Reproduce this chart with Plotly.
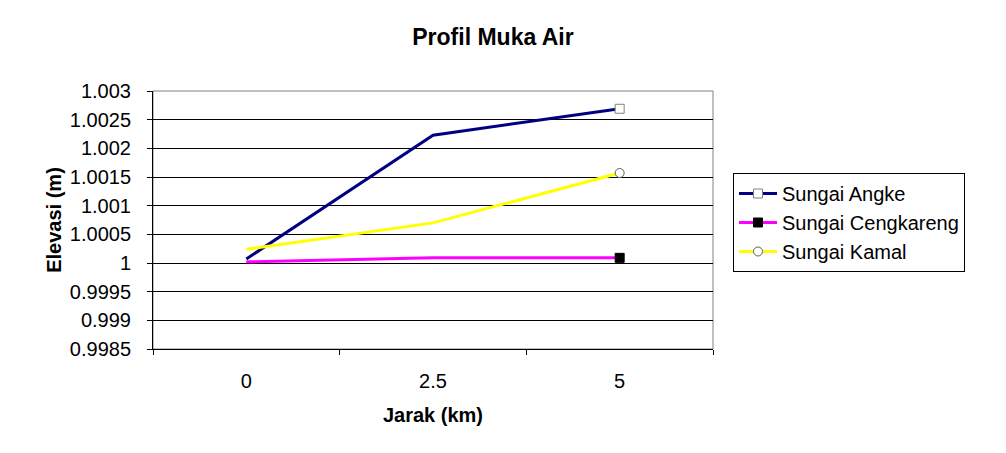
import plotly.graph_objects as go

categories = ["0", "2.5", "5"]
angke = [1.00007, 1.00223, 1.00269]
cengkareng = [1.00002, 1.00009, 1.00009]
kamal = [1.00024, 1.00070, 1.00157]
series_names = ["Sungai Angke", "Sungai Cengkareng", "Sungai Kamal"]
y_tickvals = [0.9985, 0.999, 0.9995, 1.0, 1.0005, 1.001, 1.0015, 1.002, 1.0025, 1.003]
y_ticktext = ["0.9985", "0.999", "0.9995", "1", "1.0005", "1.001", "1.0015", "1.002", "1.0025", "1.003"]

colors = ["#000080", "#FF00FF", "#FFFF00"]
symbols = ["square", "square", "circle"]
mfill = ["white", "black", "white"]
mline = ["#808080", "black", "#606060"]

fig = go.Figure()
for name, vals, c, s, mf, ml in zip(series_names, [angke, cengkareng, kamal], colors, symbols, mfill, mline):
    fig.add_trace(go.Scatter(x=categories, y=vals, mode="lines", line=dict(color=c, width=3),
                             showlegend=False, hoverinfo="skip"))
    fig.add_trace(go.Scatter(x=categories[-1:], y=vals[-1:], mode="markers",
                             marker=dict(symbol=s, size=9, color=mf, line=dict(color=ml, width=1)),
                             showlegend=False))
    fig.add_trace(go.Scatter(x=[None], y=[None], mode="lines+markers", name=name,
                             line=dict(color=c, width=3),
                             marker=dict(symbol=s, size=9, color=mf, line=dict(color=ml, width=1))))

fig.add_shape(type="rect", xref="paper", yref="paper", x0=0, x1=1, y0=0, y1=1,
              line=dict(color="#808080", width=1), layer="below")

font = "Liberation Sans, Arial, sans-serif"
fig.update_layout(
    width=1006, height=453,
    margin=dict(l=153, r=293, t=91, b=104),
    paper_bgcolor="white", plot_bgcolor="white",
    font=dict(family=font, size=20, color="black"),
    title=dict(text="<b>Profil Muka Air</b>", x=493 / 1006, xanchor="center", y=1 - 37 / 453,
               yanchor="middle", yref="container", font=dict(size=23)),
    xaxis=dict(type="category", categoryorder="array", categoryarray=categories,
               range=[-0.5, 2.5], tickson="boundaries", ticks="outside", ticklen=5,
               tickcolor="black", showline=True, linecolor="black", linewidth=1,
               showgrid=False, zeroline=False, tickfont=dict(size=20), ticklabelstandoff=14,
               title=dict(text="<b>Jarak (km)</b>", font=dict(size=20), standoff=16)),
    yaxis=dict(range=[0.9985, 1.003], tickvals=y_tickvals, ticktext=y_ticktext,
               ticks="outside", ticklen=5, tickcolor="black", showline=True,
               linecolor="black", linewidth=1, showgrid=True, gridcolor="black",
               gridwidth=1, zeroline=False, tickfont=dict(size=20), ticklabelstandoff=12,
               title=dict(text="<b>Elevasi (m)</b>", font=dict(size=20), standoff=2)),
    legend=dict(x=(733 - 153) / 560, y=(349 - 173) / 258, xanchor="left", yanchor="top",
                bordercolor="black", borderwidth=1, bgcolor="white",
                font=dict(size=20), tracegroupgap=0, itemwidth=38),
)

fig.write_html("out.html")
